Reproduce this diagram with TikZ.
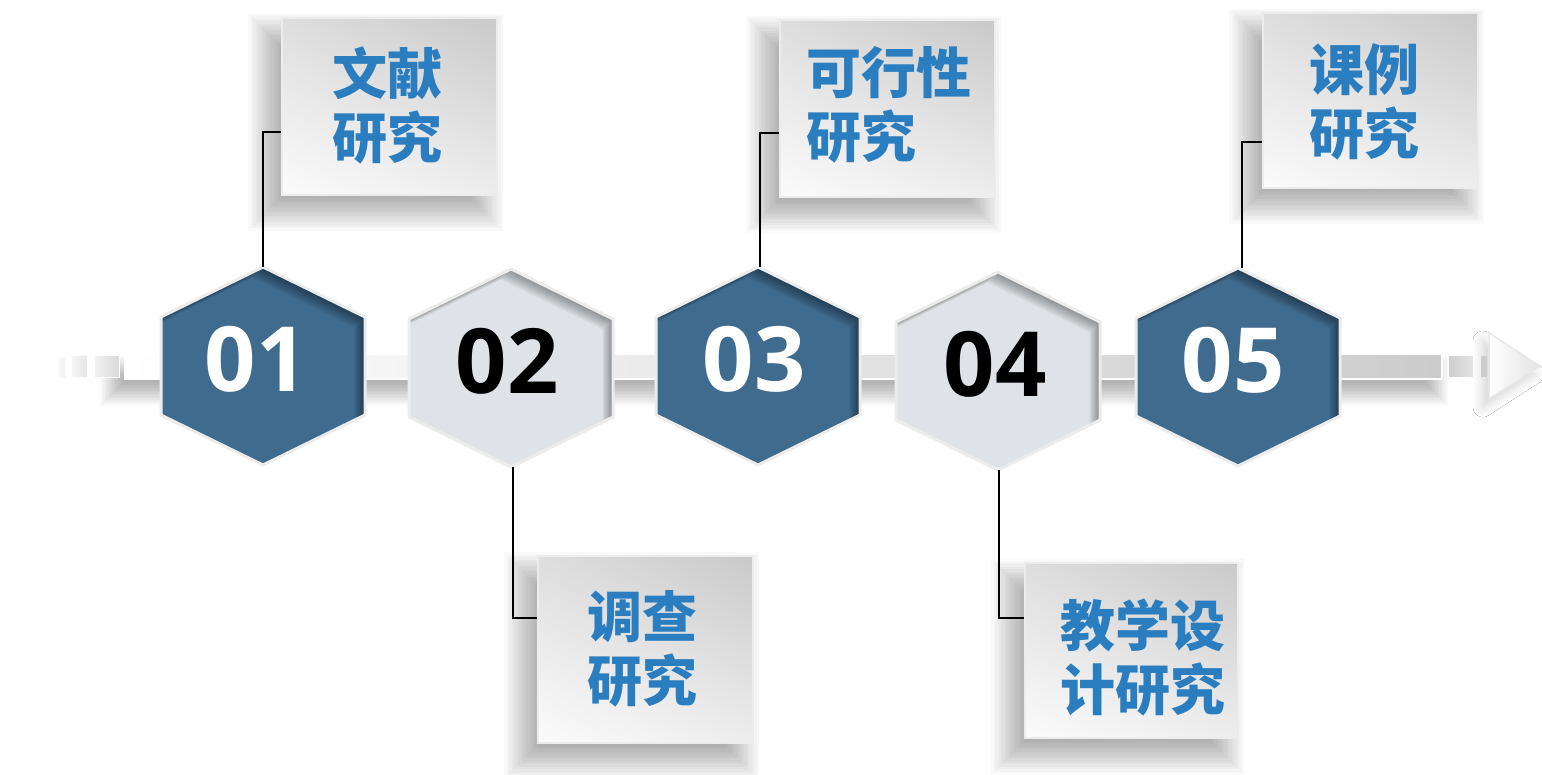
\documentclass[tikz,border=0pt]{standalone}
\usepackage{fontspec}
\newfontfamily\cjk{Noto Sans CJK SC}
\newfontfamily\digitfont{Open Sans}
\usetikzlibrary{shadows.blur,shadings}
\definecolor{hexblue}{HTML}{3F6B8E}
\definecolor{hexgrey}{HTML}{DFE3E7}
\definecolor{textblue}{HTML}{2A7EC0}
\definecolor{rimgrey}{HTML}{ECECEC}
\newcommand\hexp{(-102,-49) -- (0,-99) -- (102,-49) -- (102,49) -- (0,99) -- (-102,49) -- cycle}
\newcommand\hexoff[1]{({-102-#1},{-49+#1}) -- ({-#1},{-99+#1}) -- ({102-#1},{-49+#1}) -- ({102-#1},{49+#1}) -- ({-#1},{99+#1}) -- ({-102-#1},{49+#1}) -- cycle}
\newcommand\drawhex[4]{%
  \begin{scope}[shift={(#1,#2)}]
    \fill[#3] \hexp;
    \begin{scope}
      \clip \hexp;
      \foreach \s in {1,...,8} {%
        \pgfmathsetmacro\dd{\s*1.3}
        \fill[black, opacity=#4, even odd rule] \hexp \hexoff{\dd};
      }
    \end{scope}
    \draw[rimgrey, line width=3pt, line join=miter] \hexp;
  \end{scope}}
% soft shadow: x1 y1 x2 y2 opacity-per-layer max-extent
\newcommand\softshadow[6]{%
  \foreach \i in {0,...,15} {%
    \pgfmathsetmacro\e{#6*(1-\i/8)}
    \fill[black, opacity=#5] ({#1-\e},{#2-\e}) rectangle ({#3+\e},{#4+\e});
  }}
\begin{document}
\begin{tikzpicture}[x=1pt,y=-1pt,
  box/.style={draw=rimgrey, line width=1.5pt,
    lower left=gray!3, upper right=gray!42, upper left=gray!26, lower right=gray!14,
    inner sep=0pt},
  boxtext/.style={font={\cjk\bfseries\fontsize{55}{64}\selectfont}, text=textblue, inner sep=0pt},
  conn/.style={draw=black, line width=1.3pt},
  num/.style={font={\digitfont\bfseries\fontsize{90}{90}\selectfont}, inner sep=0pt}]
\fill[white] (0,0) rectangle (1542,775);
\useasboundingbox (0,0) rectangle (1542,775);

% bar
\softshadow{112}{368}{1436}{394}{0.018}{12}
\path[left color=white, right color=gray!40, draw=white, line width=1.5pt] (125,354) rectangle (1442,379);
\path[left color=gray!10, right color=gray!30, draw=white, line width=1pt] (94,356) rectangle (119,378);
\path[left color=gray!8, right color=gray!25, draw=white, line width=1pt, opacity=0.8] (71,356) rectangle (87,378);
\path[left color=gray!5, right color=gray!20, draw=white, line width=1pt, opacity=0.6] (58,358) rectangle (65,378);
\path[left color=gray!40, right color=gray!20, draw=white, line width=1pt] (1448,356) rectangle (1473,378);
\path[left color=gray!30, right color=gray!15, draw=white, line width=1pt] (1480,356) rectangle (1487,378);
\path[blur shadow={shadow xshift=-6pt, shadow yshift=-8pt, shadow blur radius=10pt, shadow blur steps=12, shadow opacity=18},
      left color=white, right color=gray!22, draw=gray!18, line width=1.5pt, line join=round]
      (1489,333) -- (1540,366) -- (1489,399) -- cycle;

% hexagons
\drawhex{263}{366}{hexblue}{0.06}
\drawhex{511}{368}{hexgrey}{0.05}
\drawhex{758}{366}{hexblue}{0.06}
\drawhex{998}{371}{hexgrey}{0.05}
\drawhex{1238}{367}{hexblue}{0.06}

\node[num, text=white] (n1) at (256,359) {01};
\node[num, text=black] (n2) at (507,361) {02};
\node[num, text=white] (n3) at (754,359) {03};
\node[num, text=black] (n4) at (995,364) {04};
\node[num, text=white] (n5) at (1233,360) {05};

\coordinate (h1) at (263,267);
\coordinate (h2) at (513,467);
\coordinate (h3) at (760,267);
\coordinate (h4) at (999,470);
\coordinate (h5) at (1242,268);

% box shadows
\softshadow{268}{34}{483}{211}{0.024}{20}
\softshadow{524}{572}{739}{759}{0.024}{20}
\softshadow{766}{36}{981}{213}{0.024}{20}
\softshadow{1011}{579}{1224}{754}{0.024}{20}
\softshadow{1249}{29}{1464}{204}{0.024}{20}

% boxes
\node[box, minimum width=215, minimum height=177] (b1) at (389.5,106.5) {};
\node[box, minimum width=215, minimum height=187] (b2) at (645.5,649.5) {};
\node[box, minimum width=215, minimum height=177] (b3) at (887.5,108.5) {};
\node[box, minimum width=213, minimum height=175] (b4) at (1131.5,650.5) {};
\node[box, minimum width=215, minimum height=175] (b5) at (1370.5,100.5) {};

\node[boxtext, align=center] (t1) at (387,105.5) {文献\\研究};
\node[boxtext, align=center] (t2) at (642,648.5) {调查\\研究};
\node[boxtext, align=left] (t3) at (889,104.5) {可行性\\研究};
\node[boxtext, align=center] (t4) at (1143,658) {教学设\\计研究};
\node[boxtext, align=center] (t5) at (1364,101.5) {课例\\研究};

% connectors
\coordinate (k1) at (263,132);
\coordinate (k2) at (513,618);
\coordinate (k3) at (760,133);
\coordinate (k4) at (999,618);
\coordinate (k5) at (1242,142);
\draw[conn] (h1) -- (k1) -- (k1 -| b1.west);
\draw[conn] (h2) -- (k2) -- (k2 -| b2.west);
\draw[conn] (h3) -- (k3) -- (k3 -| b3.west);
\draw[conn] (h4) -- (k4) -- (k4 -| b4.west);
\draw[conn] (h5) -- (k5) -- (k5 -| b5.west);
\end{tikzpicture}
\end{document}
